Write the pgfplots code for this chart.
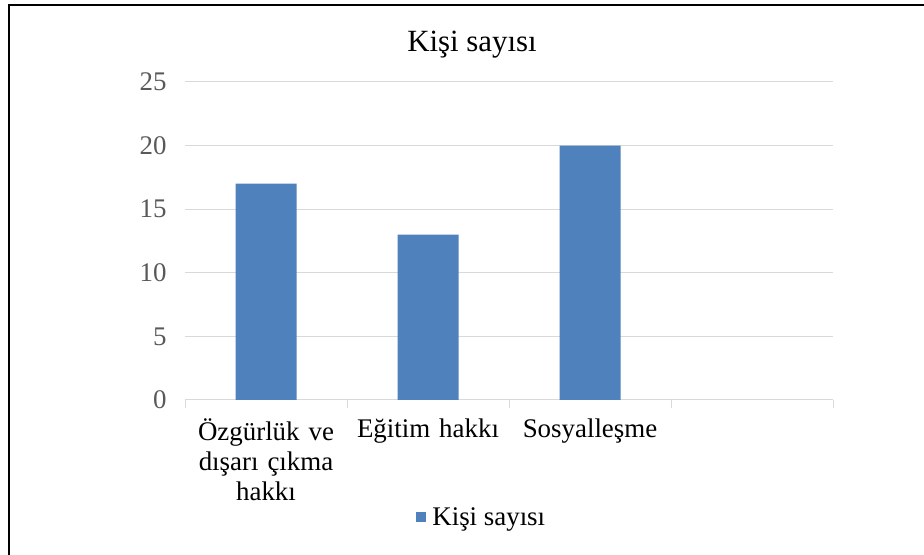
\documentclass[border=0pt]{standalone}
\usepackage{pgfplots}
\pgfplotsset{compat=1.18}
\usepackage{fontspec}
\setmainfont{Liberation Serif}
\definecolor{barblue}{HTML}{4F81BD}
\definecolor{gridgray}{HTML}{D9D9D9}
\definecolor{ticktext}{HTML}{595959}
\begin{document}
\begin{tikzpicture}[x=1bp,y=1bp]
\useasboundingbox (0,0) rectangle (924,555);
\draw[line width=2bp] (9,0) -- (9,550) -- (924,550);
\begin{axis}[
  at={(185bp,155bp)}, anchor=south west,
  width=648bp, height=318bp, scale only axis,
  xmin=-0.5, xmax=3.5, ymin=0, ymax=25,
  axis x line*=bottom, axis y line*=left,
  y axis line style={draw=none},
  x axis line style={draw=gridgray, line width=1bp},
  ytick={0,5,10,15,20,25},
  ymajorgrids, grid style={draw=gridgray, line width=1bp},
  major y tick style={draw=none},
  /pgf/number format/assume math mode=true,
  yticklabel style={font=\fontsize{27}{32}\selectfont, text=ticktext, xshift=-15bp},
  xtick={0,1,2,3},
  xticklabels={{Özgürlük ve\\dışarı çıkma\\hakkı},{Eğitim hakkı},{Sosyalleşme},{}},
  major x tick style={draw=none},
  xticklabel style={font=\fontsize{27}{30}\selectfont, align=center, text width=170bp, anchor=north, yshift=-15bp},
  extra x ticks={-0.5,0.5,1.5,2.5,3.5},
  extra x tick labels={},
  extra x tick style={major tick length=8bp, tick align=outside, tick pos=bottom,
    grid=none, major x tick style={draw=gridgray, line width=1bp}},
  title={Kişi sayısı},
  title style={font=\fontsize{31}{36}\selectfont, at={(0.443,1.098)}, anchor=center},
  legend style={draw=none, at={(0.458,-0.368)}, anchor=center,
    font=\fontsize{27}{30}\selectfont, /tikz/every odd column/.append style={column sep=4bp}},
  legend image code/.code={\fill[barblue] (0bp,-5bp) rectangle (10bp,5bp);},
]
\addplot[ybar, bar width=61bp, fill=barblue, draw=none] coordinates {(0,17) (1,13) (2,20)};
\addlegendentry{Kişi sayısı}
\end{axis}
\end{tikzpicture}
\end{document}
